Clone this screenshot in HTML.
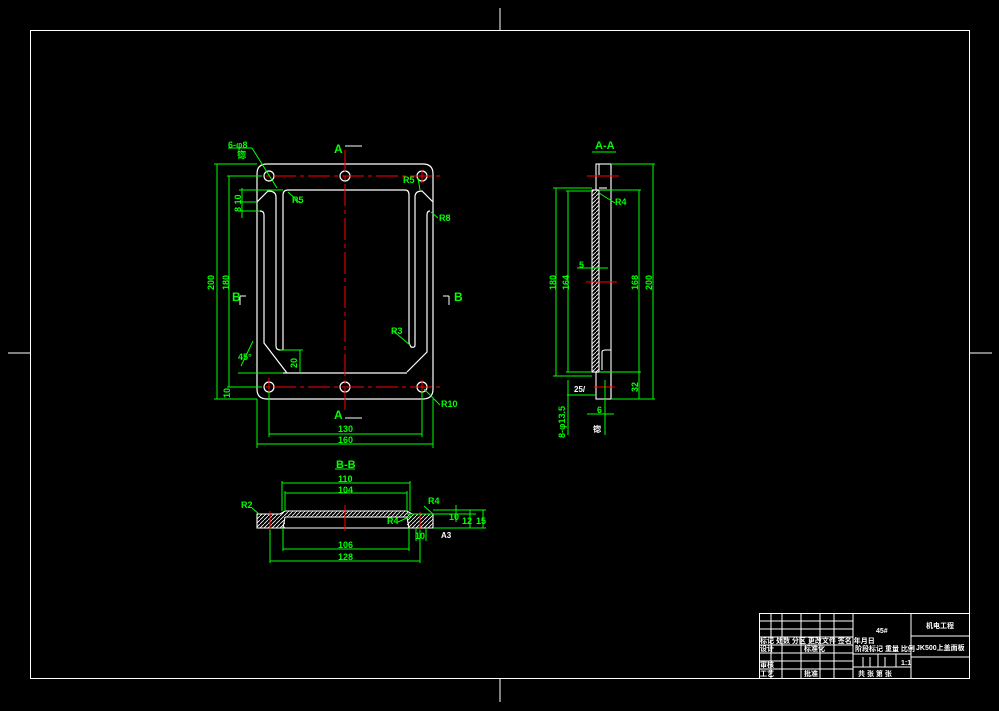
<!DOCTYPE html>
<html><head><style>
html,body{margin:0;padding:0;background:#000;}
svg{display:block}
text{font-family:"Liberation Sans","Noto Sans CJK SC",sans-serif;font-weight:bold;}
</style></head><body>
<svg width="999" height="711" viewBox="0 0 999 711" xmlns="http://www.w3.org/2000/svg">
<rect x="0" y="0" width="999" height="711" fill="#000"/>
<g stroke="#fff" stroke-width="1" fill="none">
<rect x="30.5" y="30.5" width="939" height="648"/>
<line x1="500" y1="8" x2="500" y2="30"/><line x1="500" y1="679" x2="500" y2="702"/>
<line x1="8" y1="353" x2="30" y2="353"/><line x1="970" y1="353" x2="992" y2="353"/>
</g>
<!-- main view -->
<g stroke="#fff" stroke-width="1.2" fill="none">
<path d="M267,164 H423 Q433,164 433,174 V389 Q433,399 423,399 H267 Q257,399 257,389 V174 Q257,164 267,164 Z"/>
<circle cx="269" cy="176" r="5"/><circle cx="345" cy="176" r="5"/><circle cx="422" cy="176" r="5"/>
<circle cx="269" cy="387" r="5"/><circle cx="345" cy="387" r="5"/><circle cx="422" cy="387" r="5"/>
<path d="M283,350 V195 Q283,190 288,190 H405 Q409,190 409,195 V343"/>
<path d="M283,373 H407"/>
<path d="M257,202 L268,191 Q276,191 276,197 V346 Q276,350 280,350 H283"/>
<path d="M260,211 Q264,211 264,215 V343 L287,373"/>
<path d="M433,202 L422,191 Q415,191 415,197 V345 Q415,348 411,347 L409,343"/>
<path d="M430,211 Q427,211 427,215 V352 L407,372"/>
</g>
<g stroke="#f00" stroke-width="1" fill="none" stroke-dasharray="22,4,4,4">
<line x1="240" y1="176" x2="443" y2="176"/><line x1="240" y1="387" x2="443" y2="387"/>
<line x1="345" y1="150" x2="345" y2="412"/>
<line x1="269" y1="378" x2="269" y2="398"/><line x1="422" y1="170" x2="422" y2="183"/><line x1="422" y1="380" x2="422" y2="398"/>
</g>
<g stroke="#0f0" stroke-width="1" fill="none">
<line x1="214" y1="164" x2="257" y2="164"/><line x1="214" y1="399" x2="257" y2="399"/>
<line x1="217" y1="164" x2="217" y2="399"/>
<line x1="227" y1="176" x2="262" y2="176"/><line x1="227" y1="387" x2="262" y2="387"/>
<line x1="229" y1="176" x2="229" y2="387"/>
<line x1="239" y1="190" x2="283" y2="190"/><line x1="239" y1="202" x2="257" y2="202"/><line x1="239" y1="211" x2="260" y2="211"/>
<line x1="242" y1="188" x2="242" y2="218"/>
<line x1="257" y1="399" x2="257" y2="448"/><line x1="433" y1="399" x2="433" y2="448"/>
<line x1="257" y1="444" x2="433" y2="444"/>
<line x1="269" y1="392" x2="269" y2="437"/><line x1="422" y1="392" x2="422" y2="437"/>
<line x1="269" y1="434" x2="422" y2="434"/>
<line x1="238" y1="373" x2="283" y2="373"/><line x1="280" y1="350" x2="303" y2="350"/><line x1="300" y1="350" x2="300" y2="373"/>
<line x1="241" y1="366" x2="253" y2="341"/>
<line x1="228" y1="148" x2="252" y2="148"/><line x1="252" y1="148" x2="277" y2="188"/>
<line x1="288" y1="192" x2="300" y2="203"/>
<line x1="418" y1="178" x2="420" y2="190"/>
<line x1="431" y1="212" x2="438" y2="218"/>
<line x1="392" y1="330" x2="410" y2="345"/>
<line x1="424" y1="389" x2="440" y2="405"/>
</g>
<g fill="#0f0" font-size="9">
<text x="228" y="148">6-φ8</text>
<text x="237" y="158">锪</text>
<text x="214" y="290" transform="rotate(-90 214 290)">200</text>
<text x="229" y="290" transform="rotate(-90 229 290)">180</text>
<text x="241" y="212" transform="rotate(-90 241 212)">8 10</text>
<text x="230" y="398" transform="rotate(-90 230 398)">10</text>
<text x="297" y="368" transform="rotate(-90 297 368)">20</text>
<text x="238" y="360">45°</text>
<text x="292" y="203">R5</text>
<text x="403" y="183">R5</text>
<text x="439" y="221">R8</text>
<text x="391" y="334">R3</text>
<text x="441" y="407">R10</text>
<text x="338" y="432">130</text>
<text x="338" y="443">160</text>
</g>
<g fill="#0f0" font-size="12"><text x="334" y="153">A</text><text x="334" y="419">A</text><text x="232" y="301">B</text><text x="454" y="301">B</text></g>
<g stroke="#fff" fill="none"><path d="M345,146 H362 M345,418 H362 M240,296 V305 M240,296 H246 M449,296 V305 M449,296 H443"/></g>
<!-- A-A -->
<text x="595" y="149" fill="#0f0" font-size="11">A-A</text>
<line x1="592" y1="152" x2="616" y2="152" stroke="#0f0"/>
<defs><pattern id="h" width="4" height="4" patternUnits="userSpaceOnUse"><path d="M0,4 L4,0" stroke="#fff" stroke-width="0.8"/></pattern></defs>
<g stroke="#fff" stroke-width="1.1" fill="none">
<rect x="596" y="164" width="15" height="26"/>
<rect x="592" y="190" width="7" height="182" fill="url(#h)"/>
<rect x="596" y="372" width="15" height="27"/>
<line x1="611" y1="164" x2="611" y2="399"/>
<path d="M602,370 V352 Q602,350 606,350 H611"/>
<line x1="599" y1="164" x2="599" y2="175"/><line x1="599" y1="188" x2="607" y2="188"/>
</g>
<g stroke="#f00"><line x1="587" y1="176" x2="619" y2="176"/><line x1="586" y1="282" x2="617" y2="282"/><line x1="594" y1="387" x2="615" y2="387"/></g>
<g stroke="#0f0" fill="none">
<line x1="611" y1="164" x2="655" y2="164"/><line x1="611" y1="399" x2="655" y2="399"/><line x1="653" y1="164" x2="653" y2="399"/>
<line x1="599" y1="190" x2="641" y2="190"/><line x1="599" y1="372" x2="641" y2="372"/><line x1="639" y1="190" x2="639" y2="399"/>
<line x1="553" y1="188" x2="592" y2="188"/><line x1="553" y1="376" x2="592" y2="376"/><line x1="556" y1="188" x2="556" y2="376"/>
<line x1="566" y1="191" x2="592" y2="191"/><line x1="566" y1="372" x2="592" y2="372"/><line x1="568" y1="191" x2="568" y2="372"/>
<line x1="577" y1="268" x2="608" y2="268"/>
<line x1="599" y1="193" x2="615" y2="203"/>
<line x1="567" y1="395" x2="596" y2="395"/><line x1="568" y1="380" x2="568" y2="435"/><line x1="605" y1="380" x2="605" y2="435"/>
<line x1="587" y1="414" x2="614" y2="414"/>
</g>
<g fill="#0f0" font-size="9">
<text x="615" y="205">R4</text><text x="579" y="268">5</text>
<text x="556" y="290" transform="rotate(-90 556 290)">180</text>
<text x="569" y="290" transform="rotate(-90 569 290)">164</text>
<text x="638" y="290" transform="rotate(-90 638 290)">168</text>
<text x="652" y="290" transform="rotate(-90 652 290)">200</text>
<text x="638" y="392" transform="rotate(-90 638 392)">32</text>
<text x="597" y="413">6</text>
<text x="565" y="438" transform="rotate(-90 565 438)">8-φ13.5</text>
</g>
<g fill="#fff" font-size="8"><text x="574" y="392">25/</text><text x="593" y="432">锪</text></g>
<!-- B-B -->
<text x="336" y="468" fill="#0f0" font-size="11">B-B</text>
<line x1="335" y1="469" x2="355" y2="469" stroke="#0f0"/>
<g stroke="#fff" stroke-width="1.1">
<path d="M257,514 H280 L285,511 H407 L412,514 H433 V528 H257 Z" fill="url(#h)"/>
<rect x="285" y="517" width="122" height="11" fill="#000" stroke="none"/>
<path d="M285,517 H407 M285,517 L283,528 M407,517 L409,528 M257,528 H433"/>
</g>
<g stroke="#f00"><line x1="270" y1="511" x2="270" y2="533"/><line x1="345" y1="505" x2="345" y2="531"/><line x1="420" y1="512" x2="420" y2="545"/></g>
<g stroke="#0f0" fill="none">
<line x1="282" y1="481" x2="282" y2="511"/><line x1="410" y1="481" x2="410" y2="511"/><line x1="282" y1="483" x2="410" y2="483"/>
<line x1="285" y1="491" x2="285" y2="511"/><line x1="407" y1="491" x2="407" y2="511"/><line x1="285" y1="493" x2="407" y2="493"/>
<line x1="283" y1="528" x2="283" y2="551"/><line x1="409" y1="528" x2="409" y2="551"/><line x1="283" y1="549" x2="409" y2="549"/>
<line x1="270" y1="530" x2="270" y2="563"/><line x1="420" y1="530" x2="420" y2="563"/><line x1="270" y1="561" x2="420" y2="561"/>
<line x1="433" y1="510" x2="486" y2="510"/><line x1="407" y1="514" x2="476" y2="514"/><line x1="433" y1="528" x2="486" y2="528"/>
<line x1="456" y1="505" x2="456" y2="522"/><line x1="470" y1="510" x2="470" y2="528"/><line x1="483" y1="510" x2="483" y2="528"/>
<line x1="416" y1="528" x2="416" y2="541"/><line x1="426" y1="528" x2="426" y2="541"/>
<line x1="252" y1="508" x2="259" y2="514"/><line x1="424" y1="506" x2="433" y2="514"/><line x1="398" y1="522" x2="411" y2="516"/>
</g>
<g fill="#0f0" font-size="9">
<text x="338" y="482">110</text><text x="338" y="493">104</text><text x="338" y="548">106</text><text x="338" y="560">128</text>
<text x="241" y="508">R2</text><text x="428" y="504">R4</text><text x="387" y="524">R4</text>
<text x="415" y="539">10</text><text x="449" y="520">10</text><text x="462" y="524">12</text><text x="476" y="524">15</text>
</g>
<text x="441" y="538" fill="#fff" font-size="8">A3</text>
<!-- title block -->
<g stroke="#fff" stroke-width="1" fill="none">
<rect x="759.5" y="613.5" width="210" height="65"/>
<line x1="853" y1="613" x2="853" y2="679"/><line x1="911" y1="613" x2="911" y2="679"/>
<line x1="911" y1="636" x2="970" y2="636"/><line x1="911" y1="657" x2="970" y2="657"/>
<path d="M759,621 H853 M759,629 H853 M759,637 H853 M759,645 H853 M759,653 H853 M759,661 H853 M759,669 H853"/>
<path d="M771,613 V679 M782,613 V679 M801,613 V679 M820,613 V679 M834,613 V679"/>
<path d="M853,654 H911 M853,667 H911 M878,654 V667 M896,654 V667 M863,657 V667 M870,657 V667 M885,657 V667"/>
</g>
<g fill="#fff" font-size="7">
<text x="876" y="633">45#</text><text x="926" y="628">机电工程</text><text x="916" y="650">JK500上盖面板</text>
<text x="855" y="651">阶段标记  重量 比例</text><text x="901" y="665">1:1</text>
<text x="858" y="676">共  张  第  张</text>
<text x="760" y="643">标记 处数 分区 更改文件 签名 年月日</text>
<text x="760" y="651">设计</text><text x="804" y="651">标准化</text>
<text x="760" y="667">审核</text><text x="760" y="676">工艺</text><text x="804" y="676">批准</text>
</g>
</svg>
</body></html>
